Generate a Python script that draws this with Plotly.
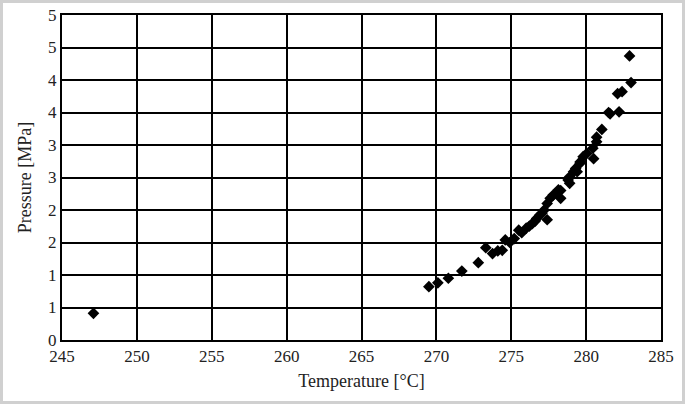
import plotly.graph_objects as go

# temperature [°C] and pressure [MPa]
temperature = [247.1, 269.5, 270.1, 270.8, 271.7, 272.8, 273.3, 273.75, 274.1, 274.4,
               274.6, 274.9, 275.2, 275.5, 275.7, 276.0, 276.2, 276.4, 276.6, 276.7,
               276.9, 277.05, 277.2, 277.4, 277.4, 277.6, 277.8, 278.15, 278.3, 278.3,
               278.8, 278.9, 278.9, 279.16, 279.3, 279.4, 279.6, 279.6, 279.8, 280.05,
               280.45, 280.5, 280.7, 280.7, 281.05, 281.5, 281.6, 282.2, 282.1, 282.4,
               283.0, 282.9]
pressure = [0.41, 0.82, 0.88, 0.95, 1.06, 1.19, 1.42, 1.33, 1.37, 1.38,
            1.54, 1.50, 1.56, 1.69, 1.65, 1.72, 1.75, 1.79, 1.83, 1.87,
            1.92, 1.95, 2.00, 2.10, 1.85, 2.18, 2.23, 2.31, 2.18, 2.30,
            2.46, 2.41, 2.51, 2.59, 2.64, 2.59, 2.72, 2.74, 2.82, 2.87,
            2.95, 2.79, 3.05, 3.12, 3.24, 3.50, 3.48, 3.51, 3.79, 3.82,
            3.96, 4.37]

x_ticks = [245, 250, 255, 260, 265, 270, 275, 280, 285]
y_tickvals = [0, 0.5, 1, 1.5, 2, 2.5, 3, 3.5, 4, 4.5, 5]
y_ticktext = ["0", "1", "1", "2", "2", "3", "3", "4", "4", "5", "5"]

fig = go.Figure(go.Scatter(
    x=temperature, y=pressure, mode="markers",
    marker=dict(symbol="diamond", size=9, color="black"),
))

font = dict(family="Liberation Serif", size=17, color="#222222")
title_font = dict(family="Liberation Serif", size=18, color="#222222")
L, R, T, B = 62, 24, 15, 64
W, H = 685, 404
pw, ph = W - L - R, H - T - B

fig.update_layout(
    width=W, height=H,
    margin=dict(l=L, r=R, t=T, b=B),
    paper_bgcolor="white", plot_bgcolor="white",
    font=font, showlegend=False,
    xaxis=dict(
        range=[245, 285], tickvals=x_ticks, automargin=False,
        showgrid=True, gridcolor="black", gridwidth=1.5,
        showline=True, linecolor="black", linewidth=2, mirror=True,
        ticks="", zeroline=False,
        title=dict(text="Temperature [°C]", font=title_font, standoff=9),
    ),
    yaxis=dict(
        range=[0, 5], tickvals=y_tickvals, ticktext=y_ticktext, automargin=False,
        showgrid=True, gridcolor="black", gridwidth=1.5,
        showline=True, linecolor="black", linewidth=2, mirror=True,
        ticks="", zeroline=False,
        title=dict(text="Pressure [MPa]", font=title_font, standoff=12),
    ),
    shapes=[dict(
        type="rect", xref="paper", yref="paper",
        x0=-(L - 1.5) / pw, x1=1 + (R - 1.5) / pw,
        y0=-(B - 1.5) / ph, y1=1 + (T - 1.5) / ph,
        line=dict(color="#d0d0d0", width=3),
    )],
)

# drop the default page margin so the figure sits at the window's corner
fig.write_html("out.html", config={"displayModeBar": False},
               post_script="document.body.style.margin='0';")
